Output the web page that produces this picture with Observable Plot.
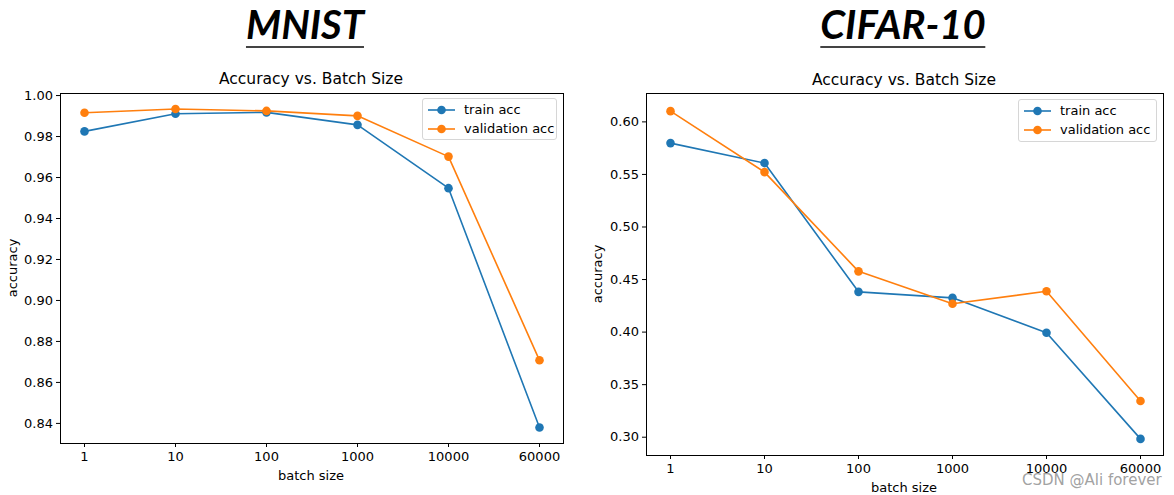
<!DOCTYPE html>
<html>
<head>
<meta charset="utf-8">
<script src="https://cdn.jsdelivr.net/npm/d3@7"></script>
<script src="https://cdn.jsdelivr.net/npm/@observablehq/plot@0.6"></script>
<style>
  html, body { margin: 0; padding: 0; background: #fff; }
  #root { position: relative; width: 1174px; height: 495px; overflow: hidden; font-family: "DejaVu Sans", sans-serif; }
  .abs { position: absolute; }
  .big { position: absolute; top: 0; font-family: "Lato", "Liberation Sans", sans-serif; font-weight: 700; font-style: italic; font-size: 40px; line-height: 44px; color: #000; white-space: nowrap; transform: translateX(-50%); }
  .big span { display: inline-block; border-bottom: 2px solid #444; padding-bottom: 0px; }
  .ttl { position: absolute; font-size: 15.5px; color: #000; white-space: nowrap; transform: translate(-50%, -50%); }
  .xl { position: absolute; font-size: 13px; color: #000; white-space: nowrap; transform: translate(-50%, -50%); }
  .yl { position: absolute; font-size: 13px; color: #000; white-space: nowrap; transform: translate(-50%, -50%) rotate(-90deg); }
  .legend { position: absolute; border: 1px solid #d6d6d6; border-radius: 3px; background: rgba(255,255,255,0.85); box-sizing: border-box; font-size: 13px; }
  .legend .row { position: absolute; left: 0; height: 19px; display: flex; align-items: center; }
  .legend svg { margin-left: 5px; margin-right: 9px; }
  .wm { position: absolute; font-family: "DejaVu Sans", sans-serif; font-size: 15px; color: rgba(150,150,150,0.9); white-space: nowrap; }
</style>
</head>
<body>
<div id="root"></div>
<script>
const batchLabels = ["1", "10", "100", "1000", "10000", "60000"];
const mnistTrain = [0.9825, 0.9911, 0.9918, 0.9857, 0.9548, 0.8380];
const mnistVal   = [0.9916, 0.9934, 0.9925, 0.9901, 0.9702, 0.8708];
const cifarTrain = [0.5798, 0.5608, 0.4383, 0.4326, 0.3994, 0.2984];
const cifarVal   = [0.6102, 0.5522, 0.4578, 0.4270, 0.4388, 0.3345];
const mnistTicks = [0.84, 0.86, 0.88, 0.90, 0.92, 0.94, 0.96, 0.98, 1.00];
const cifarTicks = [0.30, 0.35, 0.40, 0.45, 0.50, 0.55, 0.60];
const seriesNames = ["train acc", "validation acc"];
const colors = ["#1f77b4", "#ff7f0e"];

const root = document.getElementById("root");

function rows(vals) { return batchLabels.map((b, i) => ({batch: b, acc: vals[i]})); }

function makePlot(cfg) {
  const train = rows(cfg.train), val = rows(cfg.val);
  const p = Plot.plot({
    width: cfg.width, height: 495,
    marginLeft: cfg.ml, marginRight: cfg.mr, marginTop: cfg.mt, marginBottom: cfg.mb,
    style: {fontFamily: "DejaVu Sans", fontSize: "13px", color: "#000", background: "transparent", overflow: "visible"},
    x: {type: "point", domain: batchLabels, padding: 0.25, align: 0.5, label: null},
    y: {domain: cfg.ydom, label: null},
    marks: [
      Plot.axisX({tickSize: 4, tickPadding: 4, fontSize: 13, label: null, stroke: "#000", strokeWidth: 1}),
      Plot.axisY({ticks: cfg.ticks, tickFormat: d3.format(".2f"), tickSize: 4, tickPadding: 3.5, fontSize: 13, label: null, stroke: "#000", strokeWidth: 1}),
      Plot.line(train, {x: "batch", y: "acc", stroke: colors[0], strokeWidth: 1.6}),
      Plot.dot(train, {x: "batch", y: "acc", r: 4.3, fill: colors[0]}),
      Plot.line(val, {x: "batch", y: "acc", stroke: colors[1], strokeWidth: 1.6}),
      Plot.dot(val, {x: "batch", y: "acc", r: 4.3, fill: colors[1]}),
      Plot.frame({stroke: "#000", strokeWidth: 1})
    ]
  });
  p.style.position = "absolute";
  p.style.left = cfg.left + "px";
  p.style.top = "0px";
  root.appendChild(p);
}

makePlot({left: 0, width: 590, ml: 60, mr: 27, mt: 93, mb: 52, ydom: [0.8302, 1.001], ticks: mnistTicks, train: mnistTrain, val: mnistVal});
makePlot({left: 590, width: 584, ml: 56, mr: 11, mt: 93, mb: 40, ydom: [0.2826, 0.627], ticks: cifarTicks, train: cifarTrain, val: cifarVal});

function addDiv(cls, text, x, y) {
  const d = document.createElement("div");
  d.className = cls;
  d.style.left = x + "px";
  d.style.top = y + "px";
  d.textContent = text;
  root.appendChild(d);
  return d;
}

function addBig(text, x) {
  const d = document.createElement("div");
  d.className = "big";
  d.style.left = x + "px";
  d.style.top = "2px";
  const s = document.createElement("span");
  s.textContent = text;
  d.appendChild(s);
  root.appendChild(d);
}
addBig("MNIST", 305);
addBig("CIFAR-10", 903);

addDiv("ttl", "Accuracy vs. Batch Size", 311, 79);
addDiv("ttl", "Accuracy vs. Batch Size", 904, 80);
addDiv("xl", "batch size", 311, 475);
addDiv("xl", "batch size", 904, 487);
addDiv("yl", "accuracy", 12, 268);
addDiv("yl", "accuracy", 597, 274);

function addLegend(x, y, w, h) {
  const box = document.createElement("div");
  box.className = "legend";
  Object.assign(box.style, {left: x + "px", top: y + "px", width: w + "px", height: h + "px"});
  seriesNames.forEach((name, i) => {
    const r = document.createElement("div");
    r.className = "row";
    r.style.top = (1 + i * 19) + "px";
    r.innerHTML = `<svg width="27" height="10"><line x1="0" y1="5" x2="27" y2="5" stroke="${colors[i]}" stroke-width="1.6"/><circle cx="13.5" cy="5" r="4.3" fill="${colors[i]}"/></svg><span>${name}</span>`;
    box.appendChild(r);
  });
  root.appendChild(box);
}
addLegend(422, 98, 135, 42);
addLegend(1018, 99, 139, 43);

addDiv("wm", "CSDN @Ali forever", 1022, 471);
</script>
</body>
</html>
